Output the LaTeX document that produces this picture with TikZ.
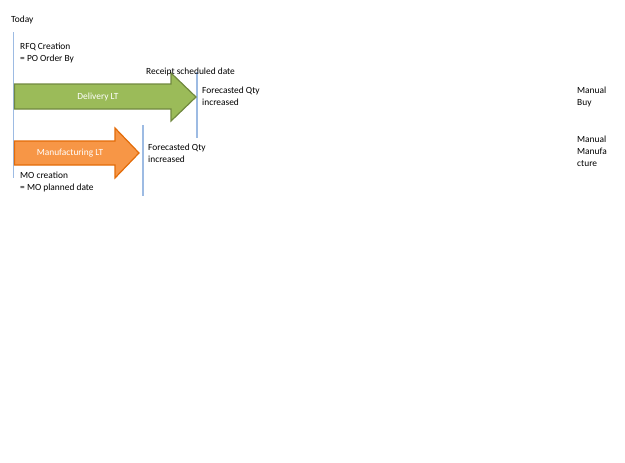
\documentclass[tikz,border=0pt]{standalone}
\usepackage{fontspec}
\setmainfont{Carlito}
\usepackage{xcolor}
\usetikzlibrary{positioning}
\definecolor{tlblue}{HTML}{9DBBE3}
\definecolor{ltgreen}{HTML}{9BBB59}
\definecolor{ltgreenline}{HTML}{71893F}
\definecolor{ltorange}{HTML}{F79646}
\definecolor{ltorangeline}{HTML}{E36C09}
\tikzstyle{label} = [anchor=north west, inner sep=0pt, align=left, font=\fontsize{9.4}{12}\selectfont]
\tikzstyle{timeline} = [draw=tlblue, line width=1.2pt]
\tikzstyle{greenarrow} = [fill=ltgreen, draw=ltgreenline, line width=1.2pt, line join=miter]
\tikzstyle{orangearrow} = [fill=ltorange, draw=ltorangeline, line width=1.2pt, line join=miter]
\tikzstyle{arrowtext} = [text=white, font=\fontsize{9.4}{12}\selectfont]

\begin{document}
\begin{tikzpicture}[x=1pt, y=-1pt]
        \useasboundingbox (0,0) rectangle (625,463);

        % Time lines
        \coordinate (todaytop) at (13.5,32);
        \coordinate (todaybot) at (13.5,178);
        \coordinate (receipttop) at (197,72);
        \coordinate (receiptbot) at (197,138);
        \coordinate (motop) at (143,125);
        \coordinate (mobot) at (143,196);
        \draw[timeline] (todaytop) -- (todaybot);
        \draw[timeline] (receipttop) -- (receiptbot);
        \draw[timeline] (motop) -- (mobot);

        % Arrows
        \draw[greenarrow] (14.5,84) -- (171,84) -- (171,73) -- (196,97) -- (171,121) -- (171,109) -- (14.5,109) -- cycle;
        \node[arrowtext] (delivery) at (98,97) {Delivery LT};
        \draw[orangearrow] (14.5,141) -- (115,141) -- (115,128) -- (139,153) -- (115,178) -- (115,165) -- (14.5,165) -- cycle;
        \node[arrowtext] (manufacturing) at (70,153.5) {Manufacturing LT};

        % Text Labels
        \node[label] (today) at (11,16) {Today};
        \node[label] (rfq) at (20,43) {RFQ Creation\\= PO Order By};
        \node[label] (receipt) at (146,68) {Receipt scheduled date};
        \node[label] (fcbuy) at (202,87) {Forecasted Qty\\increased};
        \node[label] (fcmo) at (148,144) {Forecasted Qty\\increased};
        \node[label] (mocreation) at (20,172) {MO creation\\= MO planned date};
        \node[label] (manualbuy) at (577,87) {Manual\\Buy};
        \node[label] (manualmo) at (577,136) {Manual\\Manufa\\cture};

\end{tikzpicture}
\end{document}
